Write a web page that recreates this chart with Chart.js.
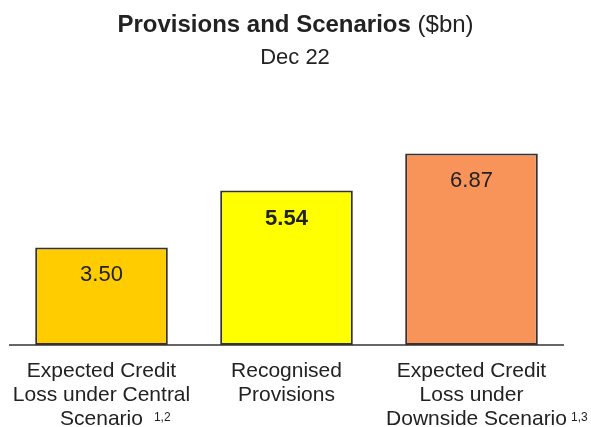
<!DOCTYPE html>
<html>
<head>
<meta charset="utf-8">
<script src="https://cdn.jsdelivr.net/npm/chart.js@4.4.0/dist/chart.umd.min.js"></script>
<style>
  html, body { margin: 0; padding: 0; background: #fff; }
</style>
</head>
<body>
<canvas id="provisions-chart" width="591" height="427"></canvas>
<script>
// Data
const categories = [
  ['Expected Credit', 'Loss under Central', 'Scenario'],
  ['Recognised', 'Provisions'],
  ['Expected Credit', 'Loss under', 'Downside Scenario'],
];
const footnotes = ['1,2', '', '1,3'];
const provisions = [3.50, 5.54, 6.87];
const valueLabels = ['3.50', '5.54', '6.87'];
const boldValue = [false, true, false];
const barColors = ['#FFCC00', '#FFFF00', '#F8945A'];

const FONT = '"Liberation Sans", Arial, Helvetica, sans-serif';
const TEXT = '#222222';

// Title, value labels, category labels and the axis line
const decorations = {
  id: 'decorations',
  afterDatasetsDraw(chart) {
    const { ctx, chartArea, scales: { x, y } } = chart;
    const meta = chart.getDatasetMeta(0);
    ctx.save();
    ctx.fillStyle = TEXT;

    // title: bold part + normal part, centred together
    const bold = 'Provisions and Scenarios';
    const normal = ' ($bn)';
    ctx.font = `bold 24px ${FONT}`;
    const wBold = ctx.measureText(bold).width;
    ctx.font = `24px ${FONT}`;
    const wNormal = ctx.measureText(normal).width;
    const tx = 295.5 - (wBold + wNormal) / 2;
    ctx.textBaseline = 'alphabetic';
    ctx.textAlign = 'left';
    ctx.font = `bold 24px ${FONT}`;
    ctx.fillText(bold, tx, 32);
    ctx.font = `24px ${FONT}`;
    ctx.fillText(normal, tx + wBold, 32);
    ctx.font = `22px ${FONT}`;
    ctx.textAlign = 'center';
    ctx.fillText('Dec 22', 295, 64);

    // base line
    const y0 = y.getPixelForValue(0);
    ctx.strokeStyle = '#333333';
    ctx.lineWidth = 1.5;
    ctx.beginPath();
    ctx.moveTo(chartArea.left, y0);
    ctx.lineTo(chartArea.right, y0);
    ctx.stroke();

    // value labels inside the bars, near the top
    meta.data.forEach((bar, i) => {
      ctx.font = `${boldValue[i] ? 'bold ' : ''}22px ${FONT}`;
      ctx.textAlign = 'center';
      ctx.fillText(valueLabels[i], bar.x, bar.y + 34);
    });

    // category labels, multi-line, with footnote superscripts
    const lineOffset = [0, 0, 5];
    const supGap = [11, 0, 4];
    categories.forEach((lines, i) => {
      const cx = x.getPixelForValue(i);
      lines.forEach((line, j) => {
        const last = j === lines.length - 1;
        const lx = cx + (last ? lineOffset[i] : 0);
        const ly = 377 + j * 24;
        ctx.font = `21px ${FONT}`;
        ctx.textAlign = 'center';
        ctx.fillText(line, lx, ly);
        if (last && footnotes[i]) {
          const w = ctx.measureText(line).width;
          ctx.font = `12px ${FONT}`;
          ctx.textAlign = 'left';
          ctx.fillText(footnotes[i], lx + w / 2 + supGap[i], ly - 4);
        }
      });
    });
    ctx.restore();
  },
};

const chart = new Chart(document.getElementById('provisions-chart'), {
  type: 'bar',
  data: {
    labels: categories.map((c) => c.join(' ')),
    datasets: [
      {
        data: provisions,
        backgroundColor: barColors,
        borderColor: '#333333',
        borderWidth: 2,
        borderSkipped: false,
        barPercentage: 0.717,
        categoryPercentage: 1,
      },
    ],
  },
  options: {
    responsive: false,
    animation: false,
    layout: {
      padding: { left: 9, right: 27, top: 122, bottom: 82 },
    },
    scales: {
      x: { display: false },
      y: { display: false, min: 0, max: 8 },
    },
    plugins: {
      legend: { display: false },
      tooltip: { enabled: false },
      title: { display: false },
    },
  },
  plugins: [decorations],
});
</script>
</body>
</html>
